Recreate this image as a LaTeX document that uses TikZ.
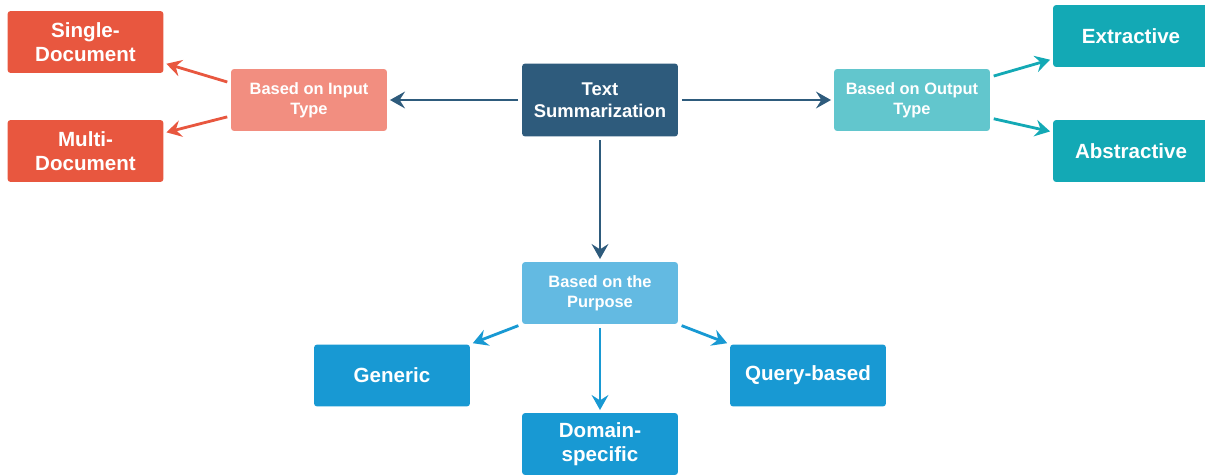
\documentclass[tikz,border=0pt]{standalone}
\usepackage{fontspec}
\setmainfont{Liberation Sans}
\usetikzlibrary{calc,arrows.meta}
\definecolor{tsnavy}{HTML}{2E5B7C}
\definecolor{inred}{HTML}{E8573F}
\definecolor{inlight}{HTML}{F28E80}
\definecolor{outteal}{HTML}{13A9B5}
\definecolor{outlight}{HTML}{62C6CD}
\definecolor{purblue}{HTML}{1899D3}
\definecolor{purlight}{HTML}{63BAE2}
\begin{document}
\begin{tikzpicture}[x=0.02cm,y=0.02cm,
  box/.style={shape=rectangle,rounded corners=1.8pt,minimum width=3.12cm,minimum height=1.24cm,inner sep=1pt,align=center,text=white},
  leaf/.style={box,font=\fontsize{11.7}{13.8}\selectfont\bfseries},
  kind/.style={box,font=\fontsize{9.35}{11.3}\selectfont\bfseries},
  link/.style={line width=1.6pt,-{Stealth[length=8.5pt,width=9.5pt,inset=3pt]},shorten <=2pt,shorten >=1.5pt}]
  \useasboundingbox (0,0) rectangle (1205,-474);
  \node[box,fill=tsnavy,minimum height=1.46cm,font=\fontsize{10.5}{12.5}\selectfont\bfseries] (ts) at (600,-100) {Text\\Summarization};
  \node[kind,fill=inlight] (inp) at (309,-100) {Based on Input\\Type};
  \node[kind,fill=outlight] (outp) at (912,-100) {Based on Output\\Type};
  \node[kind,fill=purlight] (purp) at (600,-293) {Based on the\\Purpose};
  \node[leaf,fill=inred] (single) at (85.5,-42) {Single-\\Document};
  \node[leaf,fill=inred] (multi) at (85.5,-151) {Multi-\\Document};
  \node[leaf,fill=outteal] (extr) at (1131,-36) {Extractive};
  \node[leaf,fill=outteal] (abstr) at (1131,-151) {Abstractive};
  \node[leaf,fill=purblue] (gen) at (392,-375.5) {Generic};
  \node[leaf,fill=purblue] (dom) at (600,-444) {Domain-\\specific};
  \node[leaf,fill=purblue] (query) at (808,-375.5) {Query-based};
  \draw[link,tsnavy] (ts.west)--(inp.east);
  \draw[link,tsnavy] (ts.east)--(outp.west);
  \draw[link,tsnavy] (ts.south)--(purp.north);
  \draw[link,inred] ($(inp.west)+(0,17)$)--($(single.east)+(0,-21)$);
  \draw[link,inred] ($(inp.west)+(0,-16)$)--($(multi.east)+(0,18)$);
  \draw[link,outteal] ($(outp.east)+(0,23)$)--($(extr.west)+(0,-23)$);
  \draw[link,outteal] ($(outp.east)+(0,-18)$)--($(abstr.west)+(0,19)$);
  \draw[link,purblue] (purp.south west)--(gen.north east);
  \draw[link,purblue] (purp.south)--(dom.north);
  \draw[link,purblue] (purp.south east)--(query.north west);
\end{tikzpicture}
\end{document}
